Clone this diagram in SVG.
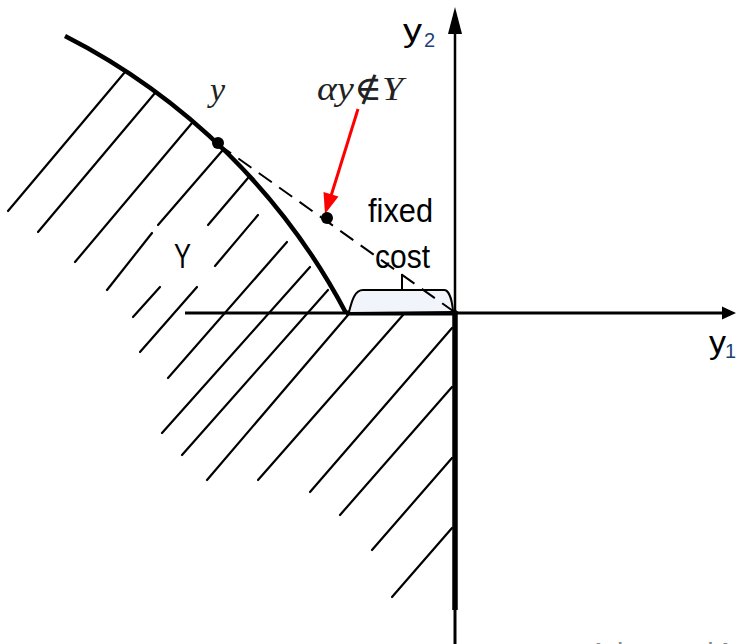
<svg xmlns="http://www.w3.org/2000/svg" width="738" height="644" viewBox="0 0 738 644">
<defs>
<style>
.hatch{stroke:#000;stroke-width:2.2;fill:none;stroke-linecap:round}
.ax{stroke:#000;fill:none}
.lbl{font-family:"Liberation Sans","Open Sans",sans-serif;fill:#000}
.math{font-family:"Liberation Serif","DejaVu Serif",serif;font-style:italic;fill:#222}
.sub{font-family:"Liberation Sans","Open Sans",sans-serif;fill:#1f3f77}
</style>
</defs>
<rect width="738" height="644" fill="#fff"/>

<g id="hatching">
<line class="hatch" x1="125" y1="72" x2="8" y2="211"/>
<line class="hatch" x1="155" y1="93" x2="38" y2="232"/>
<line class="hatch" x1="192" y1="123" x2="75" y2="262"/>
<line class="hatch" x1="222" y1="151" x2="158" y2="225"/>
<line class="hatch" x1="152" y1="233" x2="107" y2="290"/>
<line class="hatch" x1="248" y1="178" x2="208" y2="225"/>
<line class="hatch" x1="160" y1="287" x2="133" y2="317"/>
<line class="hatch" x1="258" y1="215" x2="215" y2="266"/>
<line class="hatch" x1="197" y1="287" x2="140" y2="352"/>
<line class="hatch" x1="287" y1="242" x2="168" y2="378"/>
<line class="hatch" x1="310" y1="267" x2="162" y2="433"/>
<line class="hatch" x1="328" y1="290" x2="182" y2="455"/>
<line class="hatch" x1="348" y1="315" x2="207" y2="480"/>
<line class="hatch" x1="403" y1="315" x2="258" y2="480"/>
<line class="hatch" x1="452" y1="328" x2="310" y2="492"/>
<line class="hatch" x1="452" y1="387" x2="340" y2="515"/>
<line class="hatch" x1="452" y1="458" x2="372" y2="550"/>
<line class="hatch" x1="452" y1="528" x2="392" y2="597"/>
</g>

<g id="axes">
<line class="ax" x1="185" y1="313" x2="349" y2="313" stroke-width="3"/>
<line class="ax" x1="346" y1="313" x2="457" y2="313" stroke-width="5"/>
<line class="ax" x1="455" y1="313" x2="724" y2="313" stroke-width="3"/>
<polygon points="736,313 722,306.5 722,319.5" fill="#000"/>
<line class="ax" x1="455" y1="30" x2="455" y2="313" stroke-width="2.5"/>
<line class="ax" x1="455" y1="311" x2="455" y2="610" stroke-width="5.5"/>
<line class="ax" x1="455" y1="608" x2="455" y2="644" stroke-width="3"/>
<polygon points="455,7 448,34 462,34" fill="#000"/>
</g>

<g id="frontier">
<path d="M65,36 A652,652 0 0,1 346,313" fill="none" stroke="#000" stroke-width="4.5"/>
</g>

<g id="fixed-cost-brace">
<path d="M349,312 C352,300 355,290 363,290 L444,290 C449,290 452,300 453,311" fill="#f1f5fb" stroke="#000" stroke-width="2"/>
<line x1="402" y1="290" x2="402" y2="274" stroke="#000" stroke-width="2"/>
</g>

<g id="connectors">
<line x1="218" y1="144" x2="453" y2="311" stroke="#000" stroke-width="2" stroke-dasharray="16 9"/>
<line x1="358" y1="109" x2="331" y2="196" stroke="#f00" stroke-width="3"/>
<polygon points="325,214 323.5,192 338.5,196.5" fill="#f00"/>
</g>

<g id="point-y">
<circle cx="218" cy="143" r="6" fill="#000"/>
<text class="math" x="210" y="101" font-size="34">y</text>
</g>

<g id="point-ay">
<circle cx="327" cy="218" r="6" fill="#000"/>
<text class="math" x="317" y="100" font-size="34" textLength="86" lengthAdjust="spacingAndGlyphs">αy∉Y</text>
</g>

<g id="label-Y">
<text class="lbl" x="174" y="268" font-size="35" textLength="17" lengthAdjust="spacingAndGlyphs">Y</text>
</g>

<g id="label-fixed-cost">
<text class="lbl" x="368" y="222" font-size="33" textLength="65" lengthAdjust="spacingAndGlyphs">fixed</text>
<text class="lbl" x="375" y="268" font-size="33" textLength="55" lengthAdjust="spacingAndGlyphs">cost</text>
</g>

<g id="label-y2">
<text class="lbl" x="403" y="41" font-size="31" textLength="19" lengthAdjust="spacingAndGlyphs">y</text>
<text class="sub" x="424" y="47" font-size="20">2</text>
</g>

<g id="label-y1">
<text class="lbl" x="709" y="353" font-size="31" textLength="17" lengthAdjust="spacingAndGlyphs">y</text>
<text class="sub" x="725" y="358" font-size="20">1</text>
</g>

<g id="footer">
<text x="589" y="662" font-family="Liberation Sans, sans-serif" font-size="28" fill="#888">Advanced M</text>
</g>
</svg>
